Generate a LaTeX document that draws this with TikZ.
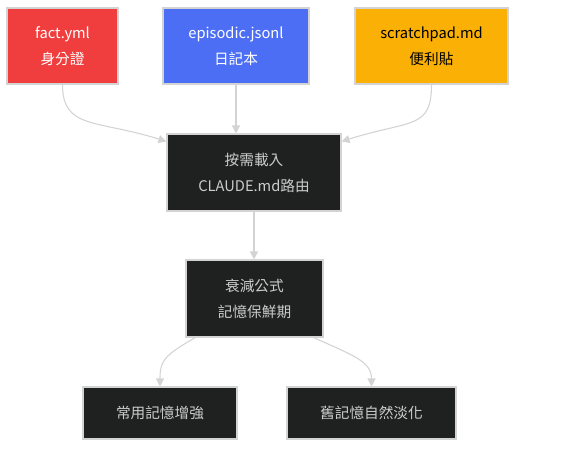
\documentclass[tikz,border=0pt]{standalone}
\usepackage{fontspec}
\setmainfont{Noto Sans CJK TC}
\usetikzlibrary{arrows.meta}
\definecolor{factred}{HTML}{F03E3E}
\definecolor{epiblue}{HTML}{4C6EF5}
\definecolor{padyellow}{HTML}{FAB005}
\definecolor{boxdark}{HTML}{1F2020}
\definecolor{edgegray}{HTML}{D3D3D3}
\definecolor{textgray}{HTML}{CCCCCC}
\begin{document}
\begin{tikzpicture}[
  x=0.75pt, y=-0.75pt, font=\fontsize{11}{19.5}\selectfont,
  store/.style={draw=edgegray, line width=0.8pt, align=center, inner sep=2pt,
    minimum height=57pt},
  stage/.style={draw=edgegray, line width=0.8pt, fill=boxdark, text=textgray,
    align=center, inner sep=2pt, minimum height=57.75pt},
  leaf/.style={stage, minimum height=39pt},
  flow/.style={-{Triangle[width=6pt,length=6pt]}, line width=0.8pt, edgegray}
]
  \useasboundingbox (0,0) rectangle (562,454);

  %% ============================================ the three memory stores
  \node[store, fill=factred, text=white, minimum width=83.25pt] (fact)
    at (62.5,46) {fact.yml\\身分證};
  \node[store, fill=epiblue, text=white, minimum width=109.5pt] (epi)
    at (236,46) {episodic.jsonl\\日記本};
  \node[store, fill=padyellow, text=black, minimum width=114.75pt] (pad)
    at (431.5,46) {scratchpad.md\\便利貼};

  %% ------------------------------------------------------------ the router
  \node[stage, minimum width=130.5pt] (router) at (254,172.5)
    {按需載入\\CLAUDE.md路由};

  \draw[flow] (fact.south) .. controls +(0,45) and +(-70,-22) ..
    ([yshift=-6pt]router.north west);
  \draw[flow] (epi.south) -- (epi.south |- router.north);
  \draw[flow] (pad.south) .. controls +(0,45) and +(70,-22) ..
    ([yshift=-6pt]router.north east);

  %% ------------------------------------------------------------- the decay
  \node[stage, minimum width=102.75pt] (decay) at (254.5,298.5)
    {衰減公式\\記憶保鮮期};
  \draw[flow] (router.south) -- (router.south |- decay.north);

  %% ---------------------------------------------------------- the outcomes
  \node[leaf, minimum width=115.5pt] (keep) at (160,413) {常用記憶增強};
  \node[leaf, minimum width=126.75pt] (fade) at (371.5,413) {舊記憶自然淡化};

  \draw[flow] ([xshift=7.5pt]decay.south west) .. controls +(-32,18) and +(0,-25) ..
    (keep.north);
  \draw[flow] ([xshift=-7.5pt]decay.south east) .. controls +(40,18) and +(0,-25) ..
    (fade.north);

\end{tikzpicture}
\end{document}
